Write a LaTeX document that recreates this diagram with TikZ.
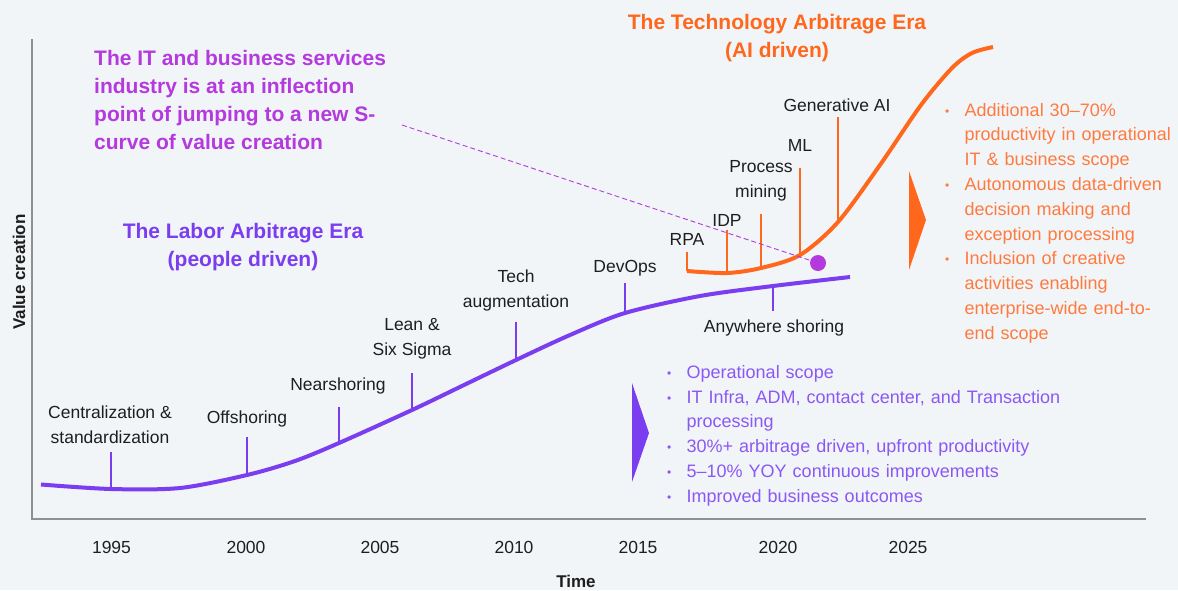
\documentclass[tikz,border=0pt]{standalone}
\usepackage{fontspec}
\setmainfont{Liberation Sans}
\usepackage{xcolor}
\usepackage{tikz}

\definecolor{bgc}{HTML}{F2F5F8}
\definecolor{laborc}{HTML}{7A3DF0}
\definecolor{laborlt}{HTML}{8A58F4}
\definecolor{techc}{HTML}{FF681C}
\definecolor{techlt}{HTML}{FF7A3E}
\definecolor{inflc}{HTML}{B43ADF}
\definecolor{axisc}{HTML}{909090}
\definecolor{inkc}{HTML}{1E1E1E}

% bullet with hanging indent, lines broken with \newline, items ended by \par
\newcommand\bitem{\noindent\hangindent=19.5pt\hangafter=1%
  \makebox[19.5pt][l]{\raisebox{1pt}{\fontsize{12}{12}\selectfont\textbullet}}}

\begin{document}
\begin{tikzpicture}[x=1pt,y=-1pt,
  lbl/.style={text=inkc,font=\fontsize{17.5}{24.5}\selectfont,align=center,anchor=base,inner sep=0pt},
  head/.style={font=\bfseries\fontsize{21}{27.7}\selectfont,align=center,anchor=base,inner sep=0pt},
  blist/.style={font=\fontsize{18}{24.8}\selectfont,text width=#1,align=left,anchor=base west,inner sep=0pt},
  ptick/.style={laborc,line width=1.1pt},
  otick/.style={techc,line width=1.1pt}]
  \fill[bgc] (0,0) rectangle (1178,590);
  \useasboundingbox (0,0) rectangle (1178,590);

  % axes
  \draw[axisc,line width=1.3pt] (32,39) -- (32,519) -- (1146,519);
  \foreach \yr/\xx in {1995/111.5,2000/246,2005/380,2010/514,2015/638,2020/778,2025/908}
    \node[lbl] (y\yr) at (\xx,553) {\yr};
  \node[lbl,font=\bfseries\fontsize{17}{20}\selectfont] (tlab) at (576,587) {Time};
  \node[rotate=90,text=inkc,font=\bfseries\fontsize{17}{20}\selectfont] (vlab) at (19,272) {Value creation};

  % labor arbitrage curve (multi-line labels sit on their last baseline)
  \coordinate (c95) at (111,489);
  \coordinate (c00) at (247,475);
  \coordinate (c03) at (339,443);
  \coordinate (c06) at (412,410);
  \coordinate (c10) at (516,360);
  \coordinate (c14) at (625,313);
  \coordinate (c20) at (773,286);
  \draw[laborc,line width=4pt] plot[smooth] coordinates
    {(41,484.5) (c95) (180,488) (c00) (295,461) (c03) (c06) (464,385)
     (c10) (570,335) (c14) (700,296) (c20) (850,277)};
  \draw[ptick] (c95) -- (c95 |- 0,452);
  \draw[ptick] (c00) -- (c00 |- 0,437);
  \draw[ptick] (c03) -- (c03 |- 0,407);
  \draw[ptick] (c06) -- (c06 |- 0,373);
  \draw[ptick] (c10) -- (c10 |- 0,322);
  \draw[ptick] (c14) -- (c14 |- 0,283);
  \draw[ptick] (c20) -- (c20 |- 0,311);
  \node[lbl] (cent) at (110,443) {Centralization \&\\standardization};
  \node[lbl] (offs) at (247,423) {Offshoring};
  \node[lbl] (nears) at (338,390) {Nearshoring};
  \node[lbl] (lean) at (412,355) {Lean \&\\Six Sigma};
  \node[lbl] (techa) at (516,307) {Tech\\augmentation};
  \node[lbl] (devops) at (625,272) {DevOps};
  \node[lbl] (anyw) at (774,332) {Anywhere shoring};

  % technology arbitrage curve
  \coordinate (o1) at (687,271);
  \coordinate (o2) at (727,273);
  \coordinate (o3) at (761,268);
  \coordinate (o4) at (800,255);
  \coordinate (o5) at (838,222);
  \draw[techc,line width=4pt] plot[smooth] coordinates
    {(o1) (o2) (o3) (o4) (o5) (880,165) (921,105) (952,68) (972,53) (993,47)};
  \draw[otick] (o1) -- (o1 |- 0,252);
  \draw[otick] (o2) -- (o2 |- 0,230);
  \draw[otick] (o3) -- (o3 |- 0,214);
  \draw[otick] (o4) -- (o4 |- 0,168);
  \draw[otick] (o5) -- (o5 |- 0,117);
  \node[lbl] (rpa) at (687,245) {RPA};
  \node[lbl] (idp) at (727,226) {IDP};
  \node[lbl] (pmin) at (761,197) {Process\\mining};
  \node[lbl] (ml) at (800,151) {ML};
  \node[lbl] (genai) at (837,111) {Generative AI};

  % era headings
  \node[head,text=techc] (techera) at (777,57) {The Technology Arbitrage Era\\(AI driven)};
  \node[head,text=laborc] (laborera) at (243,266) {The Labor Arbitrage Era\\(people driven)};
  \node[head,text=inflc,align=left,anchor=base west] (infl) at (94,149)
    {The IT and business services\\industry is at an inflection\\point of jumping to a new S-\\curve of value creation};

  % inflection point marker
  \coordinate (lead) at (402,125);
  \node[circle,fill=inflc,minimum size=16pt,inner sep=0pt] (dot) at (818,263) {};
  \draw[inflc,line width=0.9pt,dash pattern=on 5pt off 3pt] (lead) -- (dot);

  % chevrons
  \fill[techc] (909,171) -- (926,220) -- (909,270) -- cycle;
  \fill[laborc] (632,383) -- (649,433) -- (632,482) -- cycle;

  % bullet lists
  \node[blist=240pt,text=techlt] (techlist) at (945,116) {%
    \bitem Additional 30–70\%\newline productivity in operational\newline IT \& business scope\par
    \bitem Autonomous data-driven\newline decision making and\newline exception processing\par
    \bitem Inclusion of creative\newline activities enabling\newline enterprise-wide end-to-\newline end scope\par};
  \node[blist=420pt,text=laborlt] (laborlist) at (667,378.3) {%
    \bitem Operational scope\par
    \bitem IT Infra, ADM, contact center, and Transaction\newline processing\par
    \bitem 30\%+ arbitrage driven, upfront productivity\par
    \bitem 5–10\% YOY continuous improvements\par
    \bitem Improved business outcomes\par};
\end{tikzpicture}
\end{document}
